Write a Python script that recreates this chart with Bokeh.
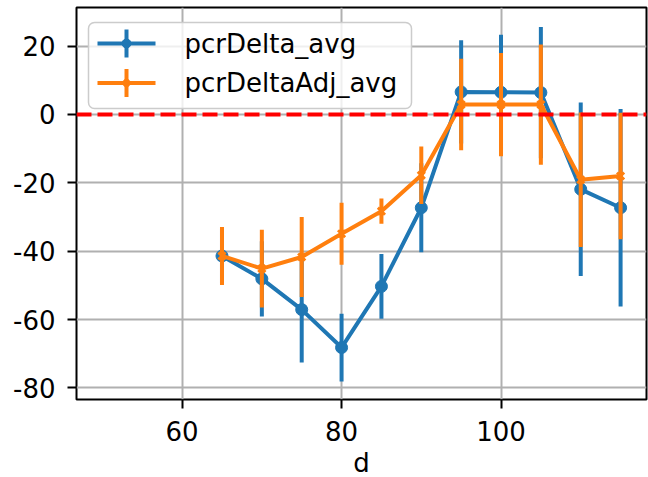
from bokeh.plotting import figure
from bokeh.models import Range1d, FixedTicker, Span
from bokeh.core.properties import value
from bokeh.embed import file_html
from bokeh.resources import INLINE
import numpy as np

# ---- data ----
d = [65, 70, 75, 80, 85, 90, 95, 100, 105, 110, 115]
pcrDelta_avg = [-41.4, -48.1, -57.1, -68.2, -50.3, -27.3, 6.6, 6.5, 6.4, -21.9, -27.3]
pcrDelta_err = [8.0, 11.0, 15.5, 9.9, 9.5, 13.0, 15.1, 16.8, 19.2, 25.4, 28.9]
pcrDeltaAdj_avg = [-41.4, -45.1, -41.7, -34.9, -28.3, -17.8, 2.9, 2.9, 2.9, -19.1, -18.0]
pcrDeltaAdj_err = [8.5, 11.4, 11.7, 9.1, 3.7, 8.4, 13.4, 15.1, 17.6, 19.7, 18.5]
series_names = ["pcrDelta_avg", "pcrDeltaAdj_avg"]
x_ticks = [60, 80, 100]
y_ticks = [-80, -60, -40, -20, 0, 20]

BLUE = "#1f77b4"
ORANGE = "#ff7f0e"
FONT = "DejaVu Sans"
FS = "26px"
LW = 4

FW, FH = 570, 392
p = figure(frame_width=FW, frame_height=FH,
           x_range=Range1d(46.75, 118.25), y_range=Range1d(-83.4, 31.3),
           output_backend="svg", toolbar_location=None,
           min_border_left=76, min_border_right=2, min_border_top=7, min_border_bottom=72)
p.background_fill_color = "white"
p.border_fill_color = "white"
p.outline_line_color = "black"
p.outline_line_width = 2

# pixel ranges of the frame for the legend layout
p.extra_x_ranges = {"lx": Range1d(0, FW)}
p.extra_y_ranges = {"ly": Range1d(FH, 0)}

for ax in (p.xaxis[0], p.yaxis[0]):
    ax.axis_line_color = None
    ax.major_tick_line_color = "black"
    ax.major_tick_line_width = 2
    ax.major_tick_out = 9
    ax.major_tick_in = 0
    ax.minor_tick_line_color = None
    ax.major_label_text_font = FONT
    ax.major_label_text_font_size = FS
    ax.major_label_text_color = "black"
p.xaxis.ticker = FixedTicker(ticks=x_ticks)
p.yaxis.ticker = FixedTicker(ticks=y_ticks)
p.yaxis.major_label_overrides = {t: str(t) for t in y_ticks}
p.xaxis.major_label_overrides = {t: str(t) for t in x_ticks}
p.xaxis.major_label_standoff = 12
p.yaxis.major_label_standoff = 12
p.xaxis.axis_label = "d"
p.xaxis.axis_label_text_font = FONT
p.xaxis.axis_label_text_font_size = FS
p.xaxis.axis_label_text_font_style = "normal"
p.xaxis.axis_label_text_color = "black"
p.xaxis.axis_label_standoff = 4

p.grid.grid_line_color = "#b0b0b0"
p.grid.grid_line_width = 2

def draw_series(y, err, color, marker):
    lo = [a - e for a, e in zip(y, err)]
    hi = [a + e for a, e in zip(y, err)]
    p.line(d, y, line_color=color, line_width=LW)
    p.segment(x0=d, y0=lo, x1=d, y1=hi, line_color=color, line_width=LW)
    if marker == "circle":
        p.scatter(d, y, marker="circle", size=12, fill_color=color, line_color=color)
    else:
        p.scatter(d, y, marker="x", size=10, line_color=color, line_width=3)

draw_series(pcrDelta_avg, pcrDelta_err, BLUE, "circle")
draw_series(pcrDeltaAdj_avg, pcrDeltaAdj_err, ORANGE, "x")

p.add_layout(Span(location=0, dimension="width", line_color="red",
                  line_width=4, line_dash="15 6"))

# ---- legend (drawn in frame pixel coordinates) ----
box_l, box_r, box_t, box_b = 12, 335, 15, 101
row_y = [36, 75.5]
h_x0, h_x1, h_xm = 21, 79, 50
txt_x = 108
p.quad(left=[box_l], right=[box_r], top=[box_t], bottom=[box_b],
       fill_color="white", fill_alpha=0.8, line_color="#cccccc", line_width=1.5,
       border_radius=6, x_range_name="lx", y_range_name="ly", level="annotation")
colors = [BLUE, ORANGE]
for i, (name, c) in enumerate(zip(series_names, colors)):
    yy = row_y[i]
    p.segment(x0=[h_x0], y0=[yy], x1=[h_x1], y1=[yy], line_color=c, line_width=LW,
              x_range_name="lx", y_range_name="ly", level="annotation")
    p.segment(x0=[h_xm], y0=[yy - 14], x1=[h_xm], y1=[yy + 14], line_color=c, line_width=LW,
              x_range_name="lx", y_range_name="ly", level="annotation")
    if i == 0:
        p.scatter(x=[h_xm], y=[yy], marker="circle", size=9, fill_color=c, line_color=c,
                  x_range_name="lx", y_range_name="ly", level="annotation")
    else:
        p.scatter(x=[h_xm], y=[yy], marker="x", size=8, line_color=c, line_width=3,
                  x_range_name="lx", y_range_name="ly", level="annotation")
    p.text(x=[txt_x], y=[yy], text=[name], text_font=value(FONT), text_font_size=FS,
           text_baseline="middle", text_align="left", text_color="black",
           x_range_name="lx", y_range_name="ly", level="annotation")

open("out.html", "w").write(file_html(p, INLINE))
